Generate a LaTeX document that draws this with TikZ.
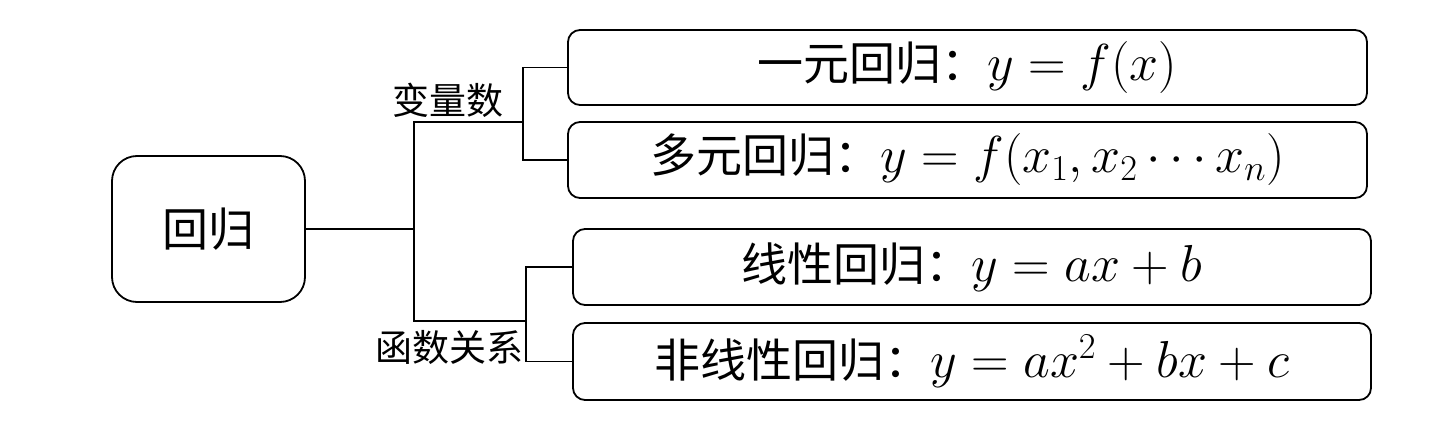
\RequirePackage{fix-cm}
\documentclass[tikz,border=0pt]{standalone}
\usepackage{fontspec}
\newfontfamily\cjk{Noto Sans CJK SC}
\newcommand{\bigmath}[1]{{\fontsize{52}{56}\selectfont$#1$}}
\begin{document}
\begin{tikzpicture}[x=1pt,y=-1pt,
  box/.style={draw,line width=1.8pt,rounded corners=12pt,inner sep=0pt,
    font=\cjk\fontsize{46}{50}\selectfont},
  lbl/.style={inner sep=0pt,font=\cjk\fontsize{37}{40}\selectfont},
  conn/.style={line width=1.8pt}]
\useasboundingbox (0,0) rectangle (1448,422);
\node[box,rounded corners=25pt,minimum width=193pt,minimum height=146pt] (root) at (208.5,229) {回归};
\node[box,minimum width=799pt,minimum height=75pt] (b1) at (967.5,67.5) {一元回归：\bigmath{y=f(x)}};
\node[box,minimum width=799pt,minimum height=76pt] (b2) at (967.5,160) {多元回归：\bigmath{y=f(x_1,x_2\cdots x_n)}};
\node[box,minimum width=798pt,minimum height=76pt] (b3) at (972,267) {线性回归：\bigmath{y=ax+b}};
\node[box,minimum width=798pt,minimum height=77pt] (b4) at (972,361.5) {非线性回归：\bigmath{y=ax^2+bx+c}};
\node[lbl] (l1) at (448,100) {变量数};
\node[lbl] (l2) at (449,347) {函数关系};
\coordinate (m) at (414,229);
\coordinate (mt) at (414,122);
\coordinate (mb) at (414,321);
\coordinate (t) at (523,122);
\coordinate (u) at (526,321);
\draw[conn] (root.east) -- (m);
\draw[conn] (t) -- (mt) -- (mb) -- (u);
\draw[conn] (b1.west) -| (t) |- (b2.west);
\draw[conn] (b3.west) -| (u) |- (b4.west);
\end{tikzpicture}
\end{document}
